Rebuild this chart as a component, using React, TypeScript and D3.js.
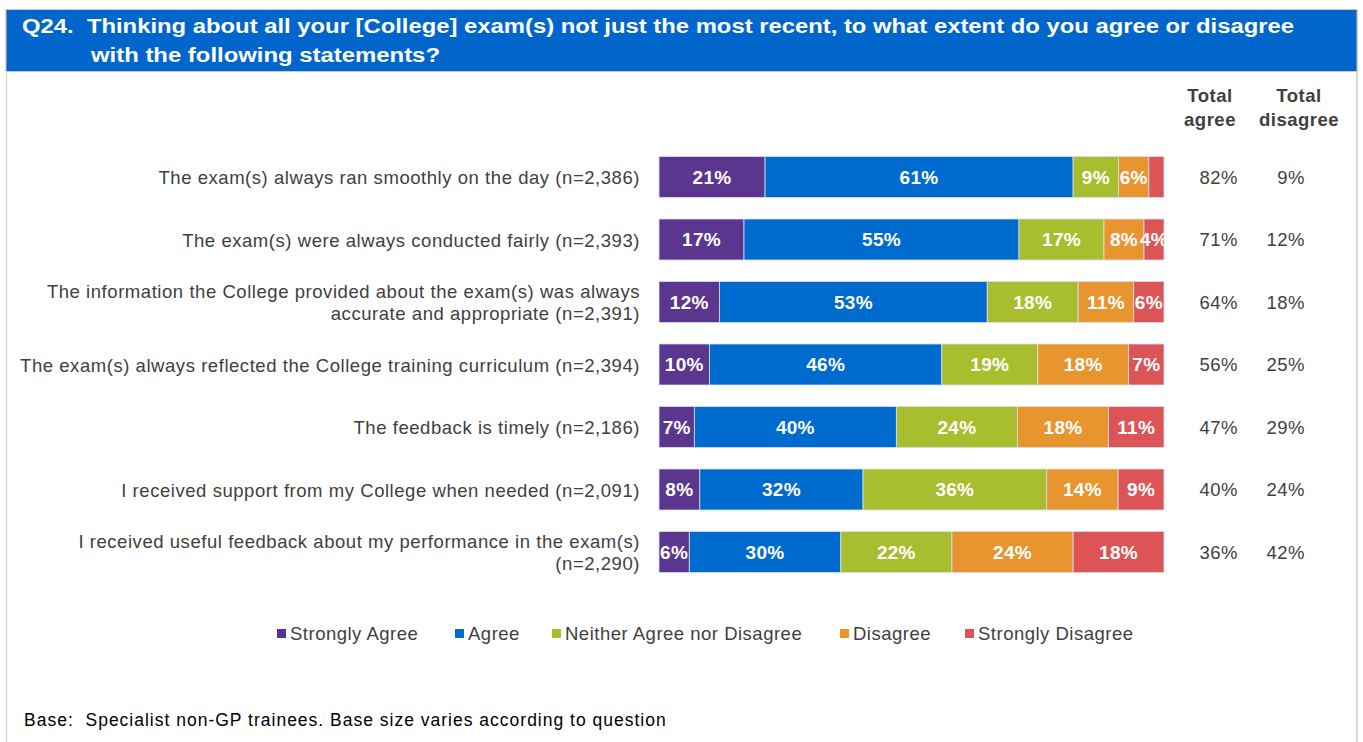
import React from "react";
import * as d3 from "d3";

const categories = [
  "The exam(s) always ran smoothly on the day (n=2,386)",
  "The exam(s) were always conducted fairly (n=2,393)",
  "The information the College provided about the exam(s) was always|accurate and appropriate (n=2,391)",
  "The exam(s) always reflected the College training curriculum (n=2,394)",
  "The feedback is timely (n=2,186)",
  "I received support from my College when needed (n=2,091)",
  "I received useful feedback about my performance in the exam(s)|(n=2,290)",
];

const seriesNames = ["Strongly Agree", "Agree", "Neither Agree nor Disagree", "Disagree", "Strongly Disagree"];
const seriesColors = ["#5B368F", "#006BCE", "#A8BE2E", "#E9952F", "#DD5457"];

const stronglyAgree = [21, 17, 12, 10, 7, 8, 6];
const agree = [61, 55, 53, 46, 40, 32, 30];
const neither = [9, 17, 18, 19, 24, 36, 22];
const disagree = [6, 8, 11, 18, 18, 14, 24];
const stronglyDisagree = [3, 4, 6, 7, 11, 9, 18];

const totalAgree = [82, 71, 64, 56, 47, 40, 36];
const totalDisagree = [9, 12, 18, 25, 29, 24, 42];

const W = 1363;
const H = 742;
const FONT = "'Liberation Sans', Arial, sans-serif";
const TEXT = "#404040";
const pre = { whiteSpace: "pre" as const };

export default function App() {
  const rows = categories.map((c, i) => ({
    cat: c,
    [seriesNames[0]]: stronglyAgree[i],
    [seriesNames[1]]: agree[i],
    [seriesNames[2]]: neither[i],
    [seriesNames[3]]: disagree[i],
    [seriesNames[4]]: stronglyDisagree[i],
  }));

  const stack = d3.stack<any>().keys(seriesNames).offset(d3.stackOffsetExpand);
  const series = stack(rows);

  const x = d3.scaleLinear().domain([0, 1]).range([659, 1164]);
  const y = d3
    .scaleBand<string>()
    .domain(categories)
    .range([145.75, 583.25])
    .paddingInner(0.344)
    .paddingOuter(0.172);

  const legendX = [277, 455, 552, 840, 965];

  return (
    <div style={{ position: "absolute", left: 0, top: 0 }}>
      <svg width={W} height={H} style={{ display: "block", fontFamily: FONT }}>
        <defs>
          <clipPath id="plotClip">
            <rect x={655} y={140} width={1164 - 655} height={450} />
          </clipPath>
        </defs>
        <rect x={0} y={0} width={W} height={H} fill="#fff" />
        {/* panel border */}
        <line x1={6.5} y1={9} x2={6.5} y2={H} stroke="#d9d9d9" strokeWidth={1.5} />
        <line x1={1357} y1={9} x2={1357} y2={H} stroke="#d9d9d9" strokeWidth={2} />
        {/* header */}
        <rect x={6} y={9.5} width={1351} height={62} fill="#0066CC" stroke="#c8c8c8" strokeWidth={1} />
        <text x={22} y={33} fill="#fff" fontSize={20} fontWeight="bold" textLength={1272} lengthAdjust="spacingAndGlyphs" style={pre}>
          Q24.  Thinking about all your [College] exam(s) not just the most recent, to what extent do you agree or disagree
        </text>
        <text x={91} y={62} fill="#fff" fontSize={20} fontWeight="bold" textLength={349} lengthAdjust="spacingAndGlyphs">
          with the following statements?
        </text>

        {/* column headers */}
        <g fontSize={18.5} fontWeight="bold" fill={TEXT} textAnchor="middle" letterSpacing={0.5}>
          <text x={1210} y={102}>Total</text>
          <text x={1210} y={126}>agree</text>
          <text x={1299} y={102}>Total</text>
          <text x={1299} y={126}>disagree</text>
        </g>

        {/* category labels */}
        <g fontSize={18.5} fill={TEXT} textAnchor="end" letterSpacing={0.55}>
          {categories.map((c) => {
            const lines = c.split("|");
            const cy = (y(c) ?? 0) + y.bandwidth() / 2;
            const lh = 22;
            return (
              <text key={c} x={640} y={cy - ((lines.length - 1) * lh) / 2} dominantBaseline="central">
                {lines.map((l, k) => (
                  <tspan key={k} x={640} dy={k === 0 ? 0 : lh}>
                    {l}
                  </tspan>
                ))}
              </text>
            );
          })}
        </g>

        {/* bars */}
        {series.map((s, si) => (
          <g key={s.key} fill={seriesColors[si]}>
            {s.map((d, i) => (
              <rect
                key={i}
                x={x(d[0])}
                y={y(categories[i])}
                width={x(d[1]) - x(d[0])}
                height={y.bandwidth()}
                stroke="#d4e0f0"
                strokeWidth={0.8}
              />
            ))}
          </g>
        ))}
        {/* bar labels */}
        <g clipPath="url(#plotClip)" fontSize={19} fontWeight="bold" fill="#fff" textAnchor="middle" letterSpacing={0.3}>
          {series.map((s, si) =>
            s.map((d, i) => {
              const v = (rows[i] as any)[s.key] as number;
              if (v < 4) return null;
              return (
                <text
                  key={s.key + i}
                  x={(x(d[0]) + x(d[1])) / 2}
                  y={(y(categories[i]) ?? 0) + y.bandwidth() / 2}
                  dominantBaseline="central"
                >
                  {v}%
                </text>
              );
            })
          )}
        </g>

        {/* totals */}
        <g fontSize={18.5} fill={TEXT} textAnchor="end" letterSpacing={0.5}>
          {categories.map((c, i) => {
            const cy = (y(c) ?? 0) + y.bandwidth() / 2;
            return (
              <g key={c}>
                <text x={1238} y={cy} dominantBaseline="central">
                  {totalAgree[i]}%
                </text>
                <text x={1305} y={cy} dominantBaseline="central">
                  {totalDisagree[i]}%
                </text>
              </g>
            );
          })}
        </g>

        {/* legend */}
        <g fontSize={18.5} fill={TEXT} letterSpacing={0.5}>
          {seriesNames.map((n, i) => (
            <g key={n}>
              <rect x={legendX[i]} y={629} width={9} height={9} fill={seriesColors[i]} />
              <text x={legendX[i] + 13} y={633.5} dominantBaseline="central">
                {n}
              </text>
            </g>
          ))}
        </g>

        {/* footer */}
        <text x={24} y={726} fontSize={17.5} fill="#000" letterSpacing={1} style={pre}>
          Base:  Specialist non-GP trainees. Base size varies according to question
        </text>
      </svg>
    </div>
  );
}
